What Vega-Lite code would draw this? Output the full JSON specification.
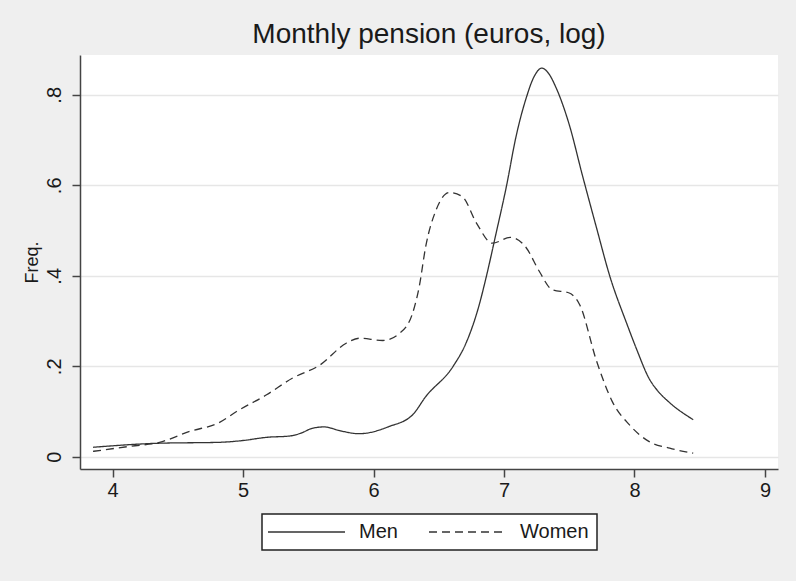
{
  "$schema": "https://vega.github.io/schema/vega-lite/v6.json",
  "width": 698,
  "height": 414,
  "autosize": {"type": "none"},
  "padding": {"left": 80, "top": 55, "right": 18, "bottom": 112},
  "background": "#efefef",
  "config": {
    "view": {"fill": "white", "stroke": null},
    "font": "Liberation Sans"
  },
  "title": {
    "text": "Monthly pension (euros, log)",
    "fontSize": 28,
    "fontWeight": "normal",
    "color": "#1a1a1a",
    "anchor": "middle",
    "offset": 6
  },
  "data": {
    "values": [
      {"x": 3.85, "y": 0.021, "sex": "Men"},
      {"x": 4.36, "y": 0.030, "sex": "Men"},
      {"x": 4.82, "y": 0.032, "sex": "Men"},
      {"x": 5.0, "y": 0.036, "sex": "Men"},
      {"x": 5.18, "y": 0.043, "sex": "Men"},
      {"x": 5.36, "y": 0.046, "sex": "Men"},
      {"x": 5.45, "y": 0.053, "sex": "Men"},
      {"x": 5.53, "y": 0.063, "sex": "Men"},
      {"x": 5.62, "y": 0.066, "sex": "Men"},
      {"x": 5.75, "y": 0.057, "sex": "Men"},
      {"x": 5.89, "y": 0.051, "sex": "Men"},
      {"x": 6.12, "y": 0.067, "sex": "Men"},
      {"x": 6.30, "y": 0.093, "sex": "Men"},
      {"x": 6.40, "y": 0.133, "sex": "Men"},
      {"x": 6.61, "y": 0.200, "sex": "Men"},
      {"x": 6.71, "y": 0.252, "sex": "Men"},
      {"x": 6.81, "y": 0.336, "sex": "Men"},
      {"x": 6.86, "y": 0.393, "sex": "Men"},
      {"x": 6.94, "y": 0.495, "sex": "Men"},
      {"x": 7.02, "y": 0.600, "sex": "Men"},
      {"x": 7.09, "y": 0.705, "sex": "Men"},
      {"x": 7.17, "y": 0.793, "sex": "Men"},
      {"x": 7.23, "y": 0.840, "sex": "Men"},
      {"x": 7.29, "y": 0.859, "sex": "Men"},
      {"x": 7.34, "y": 0.848, "sex": "Men"},
      {"x": 7.40, "y": 0.815, "sex": "Men"},
      {"x": 7.50, "y": 0.734, "sex": "Men"},
      {"x": 7.60, "y": 0.623, "sex": "Men"},
      {"x": 7.71, "y": 0.505, "sex": "Men"},
      {"x": 7.81, "y": 0.400, "sex": "Men"},
      {"x": 7.94, "y": 0.295, "sex": "Men"},
      {"x": 8.02, "y": 0.235, "sex": "Men"},
      {"x": 8.11, "y": 0.174, "sex": "Men"},
      {"x": 8.18, "y": 0.145, "sex": "Men"},
      {"x": 8.26, "y": 0.122, "sex": "Men"},
      {"x": 8.45, "y": 0.082, "sex": "Men"},
      {"x": 3.85, "y": 0.012, "sex": "Women"},
      {"x": 4.13, "y": 0.023, "sex": "Women"},
      {"x": 4.36, "y": 0.032, "sex": "Women"},
      {"x": 4.59, "y": 0.056, "sex": "Women"},
      {"x": 4.82, "y": 0.076, "sex": "Women"},
      {"x": 4.95, "y": 0.100, "sex": "Women"},
      {"x": 5.18, "y": 0.137, "sex": "Women"},
      {"x": 5.38, "y": 0.174, "sex": "Women"},
      {"x": 5.59, "y": 0.203, "sex": "Women"},
      {"x": 5.79, "y": 0.251, "sex": "Women"},
      {"x": 5.89, "y": 0.262, "sex": "Women"},
      {"x": 6.07, "y": 0.257, "sex": "Women"},
      {"x": 6.20, "y": 0.273, "sex": "Women"},
      {"x": 6.30, "y": 0.318, "sex": "Women"},
      {"x": 6.35, "y": 0.376, "sex": "Women"},
      {"x": 6.40, "y": 0.465, "sex": "Women"},
      {"x": 6.48, "y": 0.546, "sex": "Women"},
      {"x": 6.58, "y": 0.584, "sex": "Women"},
      {"x": 6.68, "y": 0.575, "sex": "Women"},
      {"x": 6.79, "y": 0.516, "sex": "Women"},
      {"x": 6.91, "y": 0.472, "sex": "Women"},
      {"x": 7.05, "y": 0.485, "sex": "Women"},
      {"x": 7.17, "y": 0.462, "sex": "Women"},
      {"x": 7.27, "y": 0.410, "sex": "Women"},
      {"x": 7.37, "y": 0.369, "sex": "Women"},
      {"x": 7.50, "y": 0.362, "sex": "Women"},
      {"x": 7.58, "y": 0.336, "sex": "Women"},
      {"x": 7.71, "y": 0.211, "sex": "Women"},
      {"x": 7.83, "y": 0.122, "sex": "Women"},
      {"x": 7.96, "y": 0.071, "sex": "Women"},
      {"x": 8.11, "y": 0.034, "sex": "Women"},
      {"x": 8.27, "y": 0.019, "sex": "Women"},
      {"x": 8.45, "y": 0.008, "sex": "Women"}
    ]
  },
  "mark": {"type": "line", "interpolate": "monotone", "color": "#333333", "strokeWidth": 1.3},
  "encoding": {
    "x": {
      "field": "x",
      "type": "quantitative",
      "scale": {"domain": [3.75, 9.1], "nice": false, "zero": false},
      "axis": {
        "title": null,
        "values": [4, 5, 6, 7, 8, 9],
        "format": "d",
        "grid": false,
        "domainColor": "#444444",
        "domainWidth": 1.5,
        "tickColor": "#444444",
        "tickWidth": 1.5,
        "tickSize": 8,
        "labelFontSize": 20,
        "labelColor": "#1a1a1a",
        "labelPadding": 3
      }
    },
    "y": {
      "field": "y",
      "type": "quantitative",
      "scale": {"domain": [-0.027, 0.888], "nice": false, "zero": false},
      "axis": {
        "title": "Freq.",
        "titleFontSize": 18,
        "titleFontWeight": "normal",
        "titleColor": "#1a1a1a",
        "titlePadding": 3,
        "values": [0, 0.2, 0.4, 0.6, 0.8],
        "labelExpr": "datum.value == 0 ? '0' : replace(format(datum.value, '.1f'), '0.', '.')",
        "labelAngle": -90,
        "labelAlign": "center",
        "labelBaseline": "bottom",
        "labelFontSize": 20,
        "labelColor": "#1a1a1a",
        "labelPadding": 8,
        "grid": true,
        "gridColor": "#e6e6e6",
        "gridWidth": 1.5,
        "domainColor": "#444444",
        "domainWidth": 1.5,
        "tickColor": "#444444",
        "tickWidth": 1.5,
        "tickSize": 8
      }
    },
    "strokeDash": {
      "field": "sex",
      "type": "nominal",
      "scale": {"domain": ["Men", "Women"], "range": [[1, 0], [8, 5]]},
      "legend": {
        "title": null,
        "orient": "none",
        "legendX": 182,
        "legendY": 459,
        "direction": "horizontal",
        "fillColor": "white",
        "strokeColor": "#222222",
        "padding": 8,
        "symbolType": "M-6,0H32.5",
        "symbolSize": 16,
        "symbolStrokeColor": "#333333",
        "symbolStrokeWidth": 1.3,
        "labelFontSize": 20,
        "labelColor": "#1a1a1a",
        "labelOffset": 69,
        "columnPadding": 28,
        "labelLimit": 200,
        "encode": {"legend": {"update": {"strokeWidth": {"value": 1.5}}}}
      }
    }
  }
}
